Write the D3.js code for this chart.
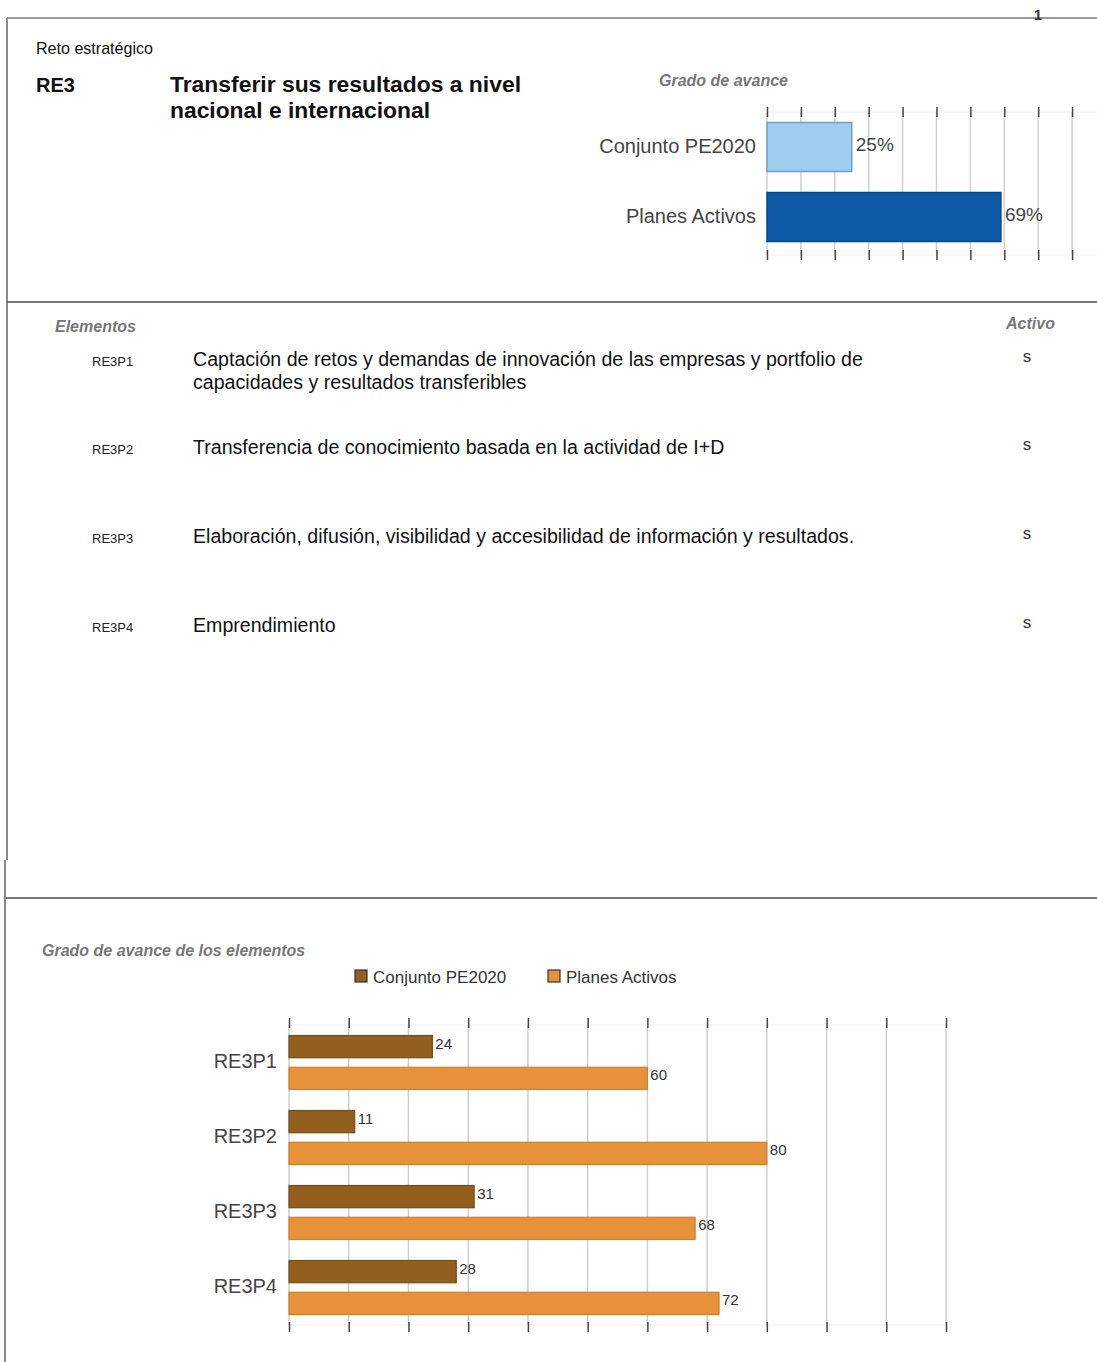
<!DOCTYPE html>
<html>
<head>
<meta charset="utf-8">
<script src="https://cdn.jsdelivr.net/npm/d3@7"></script>
<style>
  html, body { margin: 0; padding: 0; background: #fff; }
  svg { display: block; }
  text { font-family: "Liberation Sans", Arial, sans-serif; }
</style>
</head>
<body>
<script>
// ---------- DATA ----------
const topCategories = ["Conjunto PE2020", "Planes Activos"];
const topValues = [25, 69];
const topTicks = [0, 10, 20, 30, 40, 50, 60, 70, 80, 90, 100];

const elementCodes = ["RE3P1", "RE3P2", "RE3P3", "RE3P4"];
const elementTexts = [
  ["Captación de retos y demandas de innovación de las empresas y portfolio de", "capacidades y resultados transferibles"],
  ["Transferencia de conocimiento basada en la actividad de I+D"],
  ["Elaboración, difusión, visibilidad y accesibilidad de información y resultados."],
  ["Emprendimiento"]
];
const elementActive = ["s", "s", "s", "s"];

const seriesNames = ["Conjunto PE2020", "Planes Activos"];
const conjuntoValues = [24, 11, 31, 28];
const planesValues = [60, 80, 68, 72];
const bottomTicks = [0, 10, 20, 30, 40, 50, 60, 70, 80, 90, 100, 110];

// ---------- SVG ----------
const W = 1097, H = 1362;
const svg = d3.select("body").append("svg").attr("width", W).attr("height", H);

// page frame lines
const frame = svg.append("g").attr("stroke", "#8a8a8a").attr("stroke-width", 2).attr("fill", "none");
frame.append("line").attr("x1", 7).attr("x2", W).attr("y1", 18).attr("y2", 18).attr("stroke", "#999");
frame.append("line").attr("x1", 7).attr("x2", 7).attr("y1", 18).attr("y2", 860);
frame.append("line").attr("x1", 5).attr("x2", 5).attr("y1", 860).attr("y2", H);
frame.append("line").attr("x1", 7).attr("x2", W).attr("y1", 302).attr("y2", 302).attr("stroke", "#777");
frame.append("line").attr("x1", 5).attr("x2", W).attr("y1", 898).attr("y2", 898).attr("stroke", "#777");

svg.append("text").attr("x", 1038).attr("y", 20).attr("text-anchor", "middle")
  .attr("font-size", 15).attr("font-weight", "bold").attr("fill", "#333").text("1");

// header
svg.append("text").attr("x", 36).attr("y", 54).attr("font-size", 17).attr("fill", "#111")
  .attr("font-family", "'Liberation Sans Narrow', 'Liberation Sans', sans-serif")
  .attr("textLength", 117).attr("lengthAdjust", "spacingAndGlyphs").text("Reto estratégico");
svg.append("text").attr("x", 36).attr("y", 92).attr("font-size", 20).attr("font-weight", "bold").attr("fill", "#111").text("RE3");
svg.append("text").attr("x", 170).attr("y", 92).attr("font-size", 22).attr("font-weight", "bold").attr("fill", "#111")
  .attr("textLength", 351).attr("lengthAdjust", "spacingAndGlyphs").text("Transferir sus resultados a nivel");
svg.append("text").attr("x", 170).attr("y", 118).attr("font-size", 22).attr("font-weight", "bold").attr("fill", "#111")
  .attr("textLength", 260).attr("lengthAdjust", "spacingAndGlyphs").text("nacional e internacional");

// ---------- TOP CHART ----------
svg.append("text").attr("x", 659).attr("y", 86).attr("font-size", 16).attr("font-style", "italic")
  .attr("font-weight", "bold").attr("fill", "#777").text("Grado de avance");

const tTop = 112, tBot = 255;
const xTop = d3.scaleLinear().domain([0, 100]).range([767, 1106]);
const yTop = d3.scaleBand().domain(topCategories).range([tTop, tBot - 3]).paddingInner(0.3).paddingOuter(0.15);
const topColors = {"Conjunto PE2020": ["#9fcdf0", "#6f9fc9"], "Planes Activos": ["#0d59a8", "#0a4688"]};

const gTop = svg.append("g");
gTop.selectAll("line.grid").data(topTicks).join("line")
  .attr("x1", d => xTop(d)).attr("x2", d => xTop(d)).attr("y1", tTop).attr("y2", tBot)
  .attr("stroke", "#d0d0d0").attr("stroke-width", 1.5);
gTop.append("line").attr("x1", xTop(0)).attr("x2", W).attr("y1", tTop).attr("y2", tTop).attr("stroke", "#eee");
gTop.append("line").attr("x1", xTop(0)).attr("x2", W).attr("y1", tBot).attr("y2", tBot).attr("stroke", "#eee");

const axTopT = d3.axisTop(xTop).tickValues(topTicks).tickSize(10).tickFormat("");
const axTopB = d3.axisBottom(xTop).tickValues(topTicks).tickSize(10).tickFormat("");
gTop.append("g").attr("transform", `translate(0,${tTop + 5})`).call(axTopT)
  .call(g => g.select(".domain").remove())
  .call(g => g.selectAll(".tick line").attr("stroke", "#444").attr("stroke-width", 1.5));
gTop.append("g").attr("transform", `translate(0,${tBot - 5})`).call(axTopB)
  .call(g => g.select(".domain").remove())
  .call(g => g.selectAll(".tick line").attr("stroke", "#444").attr("stroke-width", 1.5));

gTop.selectAll("rect.bar").data(topCategories).join("rect")
  .attr("x", xTop(0)).attr("y", d => yTop(d))
  .attr("width", (d, i) => xTop(topValues[i]) - xTop(0)).attr("height", yTop.bandwidth())
  .attr("fill", d => topColors[d][0]).attr("stroke", d => topColors[d][1]).attr("stroke-width", 1.5);
gTop.selectAll("text.val").data(topCategories).join("text")
  .attr("x", (d, i) => xTop(topValues[i]) + 4).attr("y", d => yTop(d) + yTop.bandwidth() / 2 - 1)
  .attr("dominant-baseline", "middle").attr("font-size", 19).attr("fill", "#444")
  .text((d, i) => topValues[i] + "%");
gTop.selectAll("text.cat").data(topCategories).join("text")
  .attr("x", 756).attr("y", d => yTop(d) + yTop.bandwidth() / 2 + 1)
  .attr("dominant-baseline", "middle").attr("text-anchor", "end").attr("font-size", 20).attr("fill", "#444")
  .text(d => d);

// ---------- ELEMENTS ----------
svg.append("text").attr("x", 55).attr("y", 332).attr("font-size", 16).attr("font-style", "italic")
  .attr("font-weight", "bold").attr("fill", "#777").text("Elementos");
svg.append("text").attr("x", 1006).attr("y", 329).attr("font-size", 16).attr("font-style", "italic")
  .attr("font-weight", "bold").attr("fill", "#777").text("Activo");

const rowY = [366, 454, 543, 632];
const gEl = svg.append("g");
elementCodes.forEach((c, i) => {
  gEl.append("text").attr("x", 92).attr("y", rowY[i]).attr("font-size", 13).attr("fill", "#222")
    .attr("font-family", "'Liberation Sans Narrow', 'Liberation Sans', sans-serif").text(c);
  elementTexts[i].forEach((line, j) => {
    gEl.append("text").attr("x", 193).attr("y", rowY[i] + j * 23).attr("font-size", 19.6).attr("fill", "#111").text(line);
  });
  gEl.append("text").attr("x", 1027).attr("y", rowY[i] - 4).attr("text-anchor", "middle")
    .attr("font-size", 17).attr("fill", "#333").text(elementActive[i]);
});

// ---------- BOTTOM CHART ----------
svg.append("text").attr("x", 42).attr("y", 956).attr("font-size", 16).attr("font-style", "italic")
  .attr("font-weight", "bold").attr("fill", "#777").text("Grado de avance de los elementos");

const sColors = {"Conjunto PE2020": ["#935f1f", "#7a4c15"], "Planes Activos": ["#e5923a", "#d27f28"]};
const legendX = [355, 548];
seriesNames.forEach((s, i) => {
  svg.append("rect").attr("x", legendX[i]).attr("y", 970).attr("width", 12).attr("height", 12)
    .attr("fill", sColors[s][0]).attr("stroke", "#333").attr("stroke-width", 1.2);
  svg.append("text").attr("x", legendX[i] + 18).attr("y", 983).attr("font-size", 17).attr("fill", "#333").text(s);
});

const bTop = 1025, bBot = 1325;
const xB = d3.scaleLinear().domain([0, 110]).range([289, 946]);
const yB = d3.scaleBand().domain(elementCodes).range([bTop, bBot]).paddingInner(0.28).paddingOuter(0.14);
const yS = d3.scaleBand().domain(seriesNames).range([0, yB.bandwidth()]).paddingInner(0.3);

const gB = svg.append("g");
gB.selectAll("line.grid").data(bottomTicks).join("line")
  .attr("x1", d => xB(d)).attr("x2", d => xB(d)).attr("y1", bTop).attr("y2", bBot)
  .attr("stroke", "#cfcfcf").attr("stroke-width", 1.5);
gB.append("line").attr("x1", xB(0)).attr("x2", xB(110)).attr("y1", bTop).attr("y2", bTop).attr("stroke", "#eee");
gB.append("line").attr("x1", xB(0)).attr("x2", xB(110)).attr("y1", bBot).attr("y2", bBot).attr("stroke", "#eee");

gB.append("g").attr("transform", `translate(0,${bTop + 3})`)
  .call(d3.axisTop(xB).tickValues(bottomTicks).tickSize(10).tickFormat(""))
  .call(g => g.select(".domain").remove())
  .call(g => g.selectAll(".tick line").attr("stroke", "#444").attr("stroke-width", 1.5));
gB.append("g").attr("transform", `translate(0,${bBot - 3})`)
  .call(d3.axisBottom(xB).tickValues(bottomTicks).tickSize(10).tickFormat(""))
  .call(g => g.select(".domain").remove())
  .call(g => g.selectAll(".tick line").attr("stroke", "#444").attr("stroke-width", 1.5));

const rows = elementCodes.map((c, i) => ({code: c, vals: [conjuntoValues[i], planesValues[i]]}));
const grp = gB.selectAll("g.row").data(rows).join("g").attr("transform", d => `translate(0,${yB(d.code)})`);
grp.selectAll("rect").data(d => d.vals.map((v, k) => ({s: seriesNames[k], v}))).join("rect")
  .attr("x", xB(0)).attr("y", d => yS(d.s)).attr("width", d => xB(d.v) - xB(0)).attr("height", yS.bandwidth())
  .attr("fill", d => sColors[d.s][0]).attr("stroke", d => sColors[d.s][1]).attr("stroke-width", 1.2);
grp.selectAll("text.v").data(d => d.vals.map((v, k) => ({s: seriesNames[k], v}))).join("text")
  .attr("x", d => xB(d.v) + 3).attr("y", d => yS(d.s) + yS.bandwidth() / 2 - 2)
  .attr("dominant-baseline", "middle").attr("font-size", 15).attr("fill", "#333").text(d => d.v);
gB.selectAll("text.cat").data(elementCodes).join("text")
  .attr("x", 277).attr("y", d => yB(d) + yB.bandwidth() / 2)
  .attr("dominant-baseline", "middle").attr("text-anchor", "end").attr("font-size", 20).attr("fill", "#444")
  .text(d => d);
</script>
</body>
</html>
